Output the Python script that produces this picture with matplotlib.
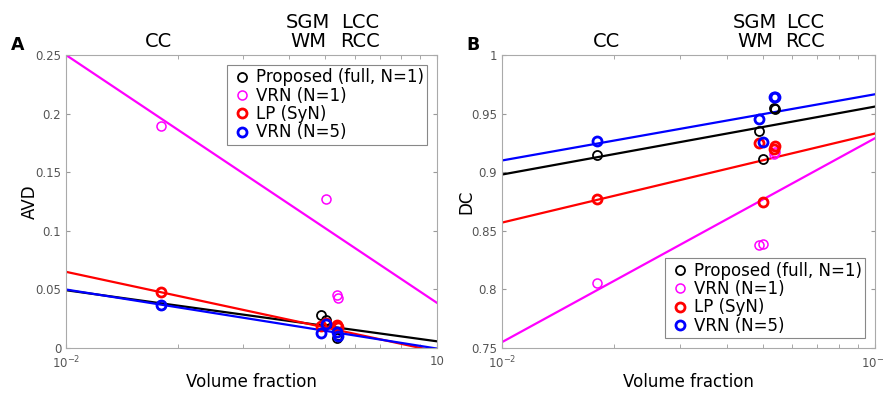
import matplotlib
matplotlib.use('Agg')
import matplotlib.pyplot as plt
import numpy as np

plt.rcParams['font.family'] = ['DejaVu Sans']

# region volume fractions (CC, SGM, WM, LCC, RCC)
regions = ['CC', 'SGM', 'WM', 'LCC', 'RCC']
vol_frac = [0.018, 0.0488, 0.0501, 0.0536, 0.0541]

methods = ['Proposed (full, N=1)', 'VRN (N=1)', 'LP (SyN)', 'VRN (N=5)']
colors = ['black', '#ff00ff', 'red', 'blue']
marker_lw = [1.3, 1.1, 2.0, 2.0]

# AVD per method, per region (nan = not visible in the figure)
avd_proposed = [0.037, 0.0285, 0.0238, 0.0085, 0.0115]
avd_vrn1 = [0.189, np.nan, 0.127, 0.045, 0.0427]
avd_lp = [0.048, 0.019, 0.021, 0.0196, 0.0175]
avd_vrn5 = [0.037, 0.0128, 0.0205, 0.014, 0.0105]
avd_values = [avd_proposed, avd_vrn1, avd_lp, avd_vrn5]
# fitted line values at x = 0.01 and x = 0.1
fit_x = [0.01, 0.1]
avd_fit = [[0.0493, 0.0057], [0.25, 0.0385], [0.065, -0.003], [0.0499, -0.0005]]

# DC per method, per region
dc_proposed = [0.915, 0.935, 0.911, 0.9546, 0.954]
dc_vrn1 = [0.8056, 0.8375, 0.839, 0.9155, 0.917]
dc_lp = [0.877, 0.925, 0.8745, 0.920, 0.9224]
dc_vrn5 = [0.927, 0.945, 0.926, 0.9645, 0.964]
dc_values = [dc_proposed, dc_vrn1, dc_lp, dc_vrn5]
dc_fit = [[0.898, 0.956], [0.755, 0.929], [0.857, 0.933], [0.910, 0.9665]]

avd_ticks = [0, 0.05, 0.1, 0.15, 0.2, 0.25]
avd_ticklabels = ['0', '0.05', '0.1', '0.15', '0.2', '0.25']
dc_ticks = [0.75, 0.8, 0.85, 0.9, 0.95, 1.0]
dc_ticklabels = ['0.75', '0.8', '0.85', '0.9', '0.95', '1']
x_ticklabels_a = ['$10^{-2}$', '10']
x_ticklabels_b = ['$10^{-2}$', '$10^{-1}$']

fig = plt.figure(figsize=(8.83, 3.93), dpi=100)
axA = fig.add_axes([66/883, 45/393, 371/883, 293/393])
axB = fig.add_axes([502/883, 45/393, 373/883, 293/393])


def draw_panel(ax, values, fits, ylim, yticks, yticklabels, xticklabels, ylabel, legend_loc):
  for vals, fit, col, mlw, name in zip(values, fits, colors, marker_lw, methods):
    ax.plot(fit_x, fit, color=col, lw=1.6, zorder=2)
    ax.plot(vol_frac, vals, 'o', mfc='none', mec=col, mew=mlw, ms=6.5, label=name, zorder=3)
  ax.set_xscale('log')
  ax.set_xlim(0.01, 0.1)
  ax.set_ylim(*ylim)
  ax.set_yticks(yticks)
  ax.set_yticklabels(yticklabels)
  ax.set_xticks(fit_x)
  ax.set_xticklabels(xticklabels)
  ax.tick_params(which='both', direction='in', top=True, right=True, colors='#999999',
                 labelcolor='#555555', labelsize=8.5, length=3)
  ax.tick_params(axis='x', pad=5)
  ax.tick_params(which='minor', labelbottom=False)
  for s in ax.spines.values():
    s.set_color('#aaaaaa')
  ax.set_xlabel('Volume fraction', fontsize=12, labelpad=1)
  ax.set_ylabel(ylabel, fontsize=12, labelpad=-3)
  leg = ax.legend(loc=legend_loc, fontsize=12, handletextpad=0.15, borderpad=0.2,
                  labelspacing=0.02, handlelength=1.4, fancybox=False, framealpha=1,
                  borderaxespad=0.6)
  leg.get_frame().set_edgecolor('#888888')
  leg.get_frame().set_linewidth(0.8)


draw_panel(axA, avd_values, avd_fit, (0, 0.25), avd_ticks, avd_ticklabels,
           x_ticklabels_a, 'AVD', 'upper right')
draw_panel(axB, dc_values, dc_fit, (0.75, 1.0), dc_ticks, dc_ticklabels,
           x_ticklabels_b, 'DC', 'lower right')

# region labels above the axes
def top_labels(cc, sgm, lcc, panel, panel_x):
  fs = 14
  fig.text(cc/883, 1 - 47/393, 'CC', ha='center', va='baseline', fontsize=fs)
  fig.text(sgm/883, 1 - 28/393, 'SGM', ha='center', va='baseline', fontsize=fs)
  fig.text(sgm/883, 1 - 47/393, 'WM', ha='center', va='baseline', fontsize=fs)
  fig.text(lcc/883, 1 - 28/393, 'LCC', ha='center', va='baseline', fontsize=fs)
  fig.text(lcc/883, 1 - 47/393, 'RCC', ha='center', va='baseline', fontsize=fs)
  fig.text(panel_x/883, 1 - 50/393, panel, ha='left', va='baseline', fontsize=12.5,
           fontweight='bold')

top_labels(158, 308, 360, 'A', 11)
top_labels(606, 755, 805, 'B', 466)

fig.savefig('out.png', dpi=100)
